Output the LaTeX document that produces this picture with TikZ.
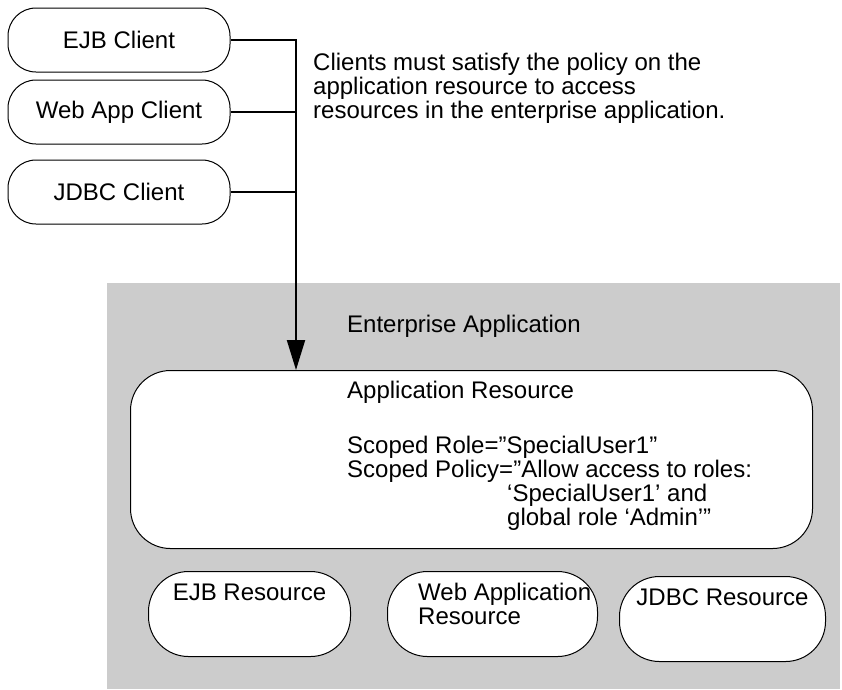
\documentclass[tikz,border=0pt]{standalone}
\usepackage{fontspec}
\setmainfont{Liberation Sans}
\usepackage{tikz}
\usetikzlibrary {arrows.meta}

\definecolor{appgray}{HTML}{CCCCCC}

\begin{document}
\begin{tikzpicture}[x=1pt, y=-1pt,
        every node/.style={font=\fontsize{24}{24}\selectfont, inner sep=0pt},
        client/.style={draw, line width=1pt, rounded corners=28pt, fill=white,
                       minimum width=222pt, minimum height=64pt},
        resbox/.style={draw, line width=1pt, rounded corners=40pt, fill=white,
                       minimum height=85pt, anchor=north west},
        link/.style={line width=2pt}]
        \useasboundingbox (0, 0) rectangle (842, 689);
        % クライアント
        \node [client] (ejbclient) at (119, 40) {EJB Client};
        \node [client] (webclient) at (119, 112) {Web App Client};
        \node [client] (jdbcclient) at (119, 192) {JDBC Client};
        \node [anchor=north west, align=left] (policynote) at (313, 53)
            {Clients must satisfy the policy on the\\application resource to access\\resources in the enterprise application.};
        % エンタープライズアプリケーション
        \node [fill=appgray, anchor=north west, minimum width=733pt, minimum height=406pt] (entapp) at (107, 283) {};
        \node [anchor=base west] (entlabel) at (347, 332) {Enterprise Application};
        \node [draw, line width=1pt, rounded corners=40pt, fill=white, anchor=north west,
               minimum width=682pt, minimum height=178pt] (appres) at (130, 370) {};
        \node [anchor=north west, align=left] (apptext) at (347, 381)
            {Application Resource\\[31pt]
             Scoped Role=”SpecialUser1”\\
             Scoped Policy=”Allow access to roles:\\
             \hspace*{160pt}‘SpecialUser1’ and\\
             \hspace*{160pt}global role ‘Admin’”};
        % リソース
        \node [resbox, minimum width=202pt] (ejbres) at (148, 571) {};
        \node [resbox, minimum width=210pt] (webres) at (387, 571) {};
        \node [resbox, minimum width=206pt] (jdbcres) at (619, 576) {};
        \node [anchor=base] (ejbreslabel) at ([yshift=-29pt]ejbres.north) {EJB Resource};
        \node [anchor=north west, align=left] (webreslabel) at (418, 583) {Web Application\\Resource};
        \node [anchor=base] (jdbcreslabel) at ([yshift=-29pt]jdbcres.north) {JDBC Resource};
        % 矢印
        \coordinate (entry) at ([xshift=166pt]appres.north west);
        \draw [link, -{Triangle[length=30pt, width=18pt]}] (ejbclient.east) -| (entry);
        \draw [link] (webclient.east) -- (webclient.east -| entry);
        \draw [link] (jdbcclient.east) -- (jdbcclient.east -| entry);
\end{tikzpicture}
\end{document}
